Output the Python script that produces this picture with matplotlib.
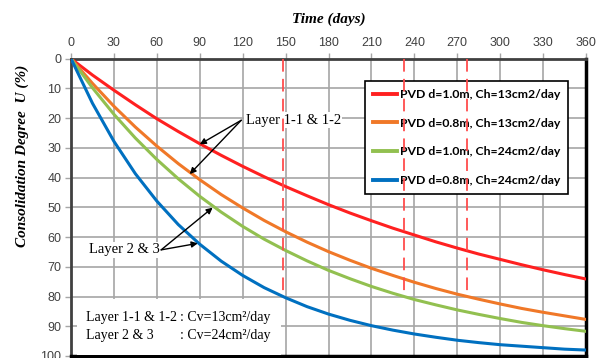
import numpy as np
import matplotlib
matplotlib.use("Agg")
import matplotlib.pyplot as plt
from matplotlib.patches import Rectangle

# time axis (days) and consolidation degree U (%)
days = [0, 15, 30, 45, 60, 75, 90, 105, 120, 135, 150, 165, 180, 195, 210,
        225, 240, 255, 270, 285, 300, 315, 330, 345, 360]

u_d10_ch13 = [0, 5.5, 10.6, 15.5, 20.2, 24.5, 28.6, 32.5, 36.2, 39.7, 43.0,
              46.1, 49.1, 51.9, 54.5, 57.0, 59.3, 61.6, 63.7, 65.7, 67.5,
              69.3, 71.0, 72.6, 74.1]
u_d08_ch13 = [0, 8.3, 16.0, 23.0, 29.4, 35.3, 40.7, 45.7, 50.2, 54.4, 58.2,
              61.7, 64.9, 67.8, 70.5, 72.9, 75.2, 77.3, 79.2, 80.9, 82.5,
              84.0, 85.3, 86.5, 87.7]
u_d10_ch24 = [0, 9.8, 18.7, 26.7, 33.9, 40.4, 46.3, 51.6, 56.4, 60.7, 64.5,
              68.0, 71.2, 74.0, 76.6, 78.9, 81.0, 82.8, 84.5, 86.0, 87.4,
              88.7, 89.8, 90.8, 91.7]
u_d08_ch24 = [0, 15.0, 27.8, 38.7, 47.9, 55.8, 62.4, 68.1, 72.9, 77.0, 80.4,
              83.4, 85.9, 88.0, 89.8, 91.3, 92.6, 93.7, 94.7, 95.5, 96.2,
              96.7, 97.2, 97.7, 98.0]

labels = ["PVD d=1.0m, Ch=13cm2/day", "PVD d=0.8m, Ch=13cm2/day",
          "PVD d=1.0m, Ch=24cm2/day", "PVD d=0.8m, Ch=24cm2/day"]
colors = ["#FF2020", "#F07828", "#92C050", "#0070C0"]

# days to reach U = 80%
t80 = [148, 233, 277]
u80 = 80

x_ticks = list(range(0, 361, 30))
y_ticks = list(range(0, 101, 10))

fig = plt.figure(figsize=(6.06, 3.58), dpi=100)
ax = fig.add_axes([0.1172, 0.0056, 0.8498, 0.8304])

series = [u_d10_ch13, u_d08_ch13, u_d10_ch24, u_d08_ch24]
for u, c, lab in zip(series, colors, labels):
    ax.plot(days, u, color=c, lw=2.2, label=lab, zorder=3)

ax.vlines(t80, 0, u80, colors="#FF4C4C", linestyles=(0, (7, 4)), lw=1.3,
          zorder=10)

ax.set_xlim(0, 360)
ax.set_ylim(100, 0)
ax.set_xticks(x_ticks)
ax.set_yticks(y_ticks)
ax.xaxis.tick_top()
ax.grid(True, color="#A6A6A6", lw=1.2, zorder=0)
ax.set_axisbelow(True)
ax.tick_params(axis="both", length=4, width=1, color="#A6A6A6",
               labelcolor="#404040", labelsize=9, pad=3)
for lab in ax.get_xticklabels() + ax.get_yticklabels():
    lab.set_family("Liberation Sans")

for s in ["left", "top"]:
    ax.spines[s].set_color("#404040")
    ax.spines[s].set_linewidth(2)
for s in ["right", "bottom"]:
    ax.spines[s].set_color("black")
    ax.spines[s].set_linewidth(2.5)

serif_bi = dict(family="Liberation Serif", weight="bold", style="italic",
                size=11)
fig.text(0.543, 0.945, "Time (days)", ha="center", va="center", **serif_bi)
fig.text(0.036, 0.565, "Consolidation Degree  U (%)", rotation=90,
         ha="center", va="center", **serif_bi)

leg = ax.legend(loc="upper right", bbox_to_anchor=(0.966, 0.925),
                prop=dict(family="Lato", weight="bold", size=8.8),
                handlelength=1.9, handletextpad=0.3, borderpad=0.65,
                borderaxespad=0, labelspacing=1.45, fancybox=False,
                framealpha=1, edgecolor="black")
leg.get_frame().set_linewidth(1.2)
leg.set_zorder(5)
for ln in leg.get_lines():
    ln.set_linewidth(2.8)

serif = dict(family="Liberation Serif", size=10.5, color="black")
arrow = dict(arrowstyle="-|>", color="black", lw=1, mutation_scale=9,
             shrinkA=0, shrinkB=0)

ax.text(122, 20.7, "Layer 1-1 & 1-2", ha="left", va="center", zorder=4,
        bbox=dict(facecolor="white", edgecolor="none", pad=1), **serif)
ax.annotate("", xy=(90, 28.8), xytext=(119, 20.7), arrowprops=arrow,
            zorder=6)
ax.annotate("", xy=(83, 38.8), xytext=(119, 20.7), arrowprops=arrow,
            zorder=6)

ax.text(62, 64.3, "Layer 2 & 3", ha="right", va="center", zorder=4,
        bbox=dict(facecolor="white", edgecolor="none", pad=1), **serif)
ax.annotate("", xy=(99, 50.1), xytext=(63, 64.3), arrowprops=arrow,
            zorder=6)
ax.annotate("", xy=(88.6, 62.1), xytext=(63, 64.3), arrowprops=arrow,
            zorder=6)

ax.add_patch(Rectangle((4, 80.8), 143, 19, facecolor="white",
                       edgecolor="none", zorder=4))
serif_s = dict(family="Liberation Serif", size=10, color="black", zorder=5,
               va="center")
ax.text(10.5, 87.0, "Layer 1-1 & 1-2", ha="left", **serif_s)
ax.text(10.5, 93.2, "Layer 2 & 3", ha="left", **serif_s)
ax.text(76, 87.0, ": Cv=13cm\u00b2/day", ha="left", **serif_s)
ax.text(76, 93.2, ": Cv=24cm\u00b2/day", ha="left", **serif_s)

plt.savefig("out.png", dpi=100)
